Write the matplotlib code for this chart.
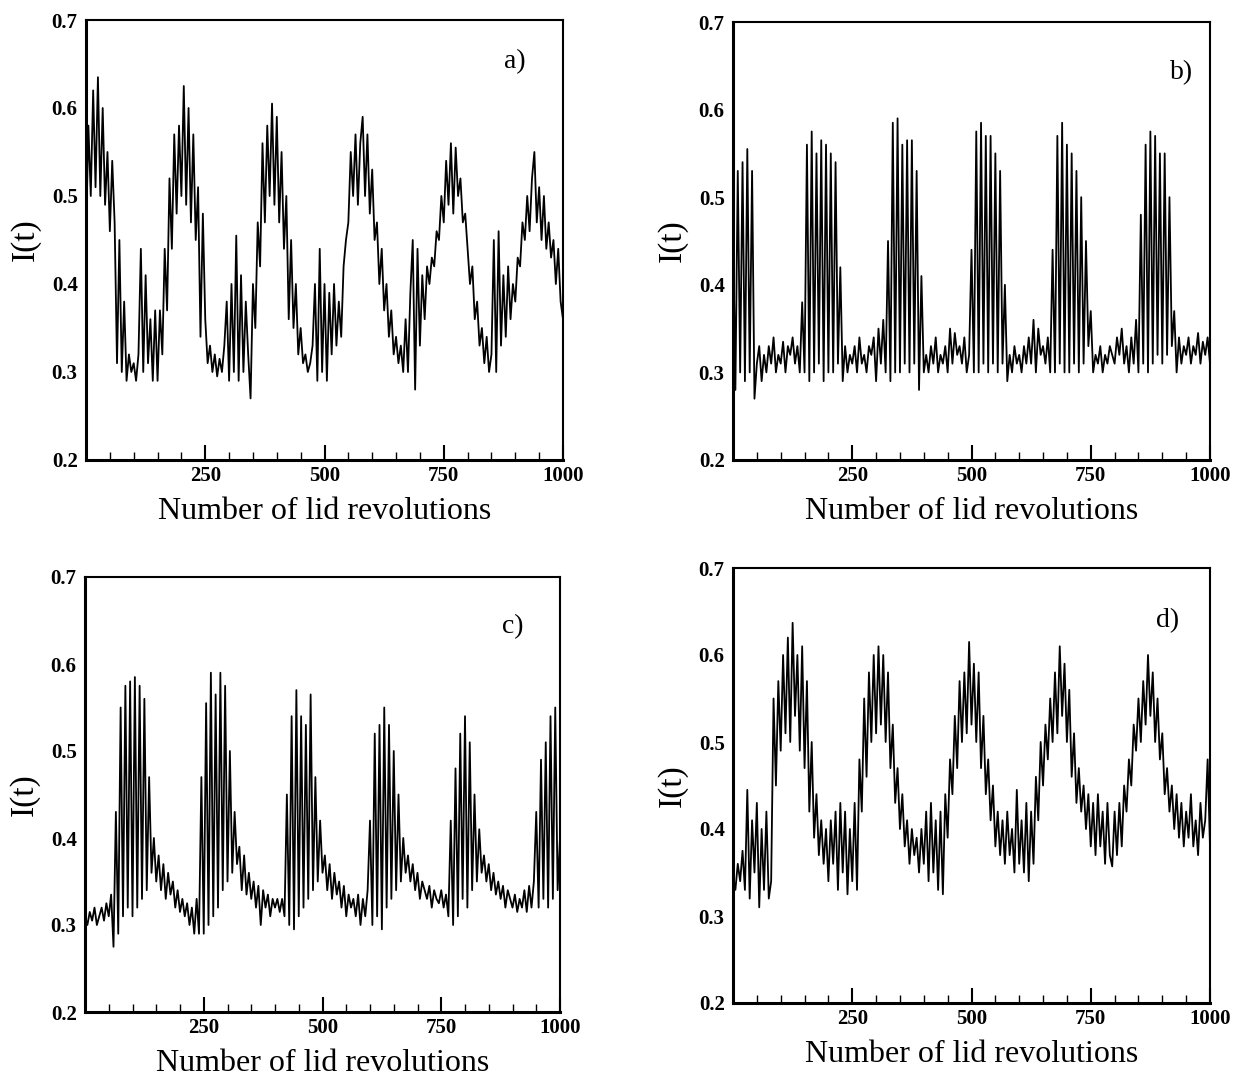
import matplotlib
matplotlib.use("Agg")
import matplotlib.pyplot as plt
from matplotlib.ticker import MultipleLocator, FixedLocator

plt.rcParams['font.family'] = ['Liberation Serif', 'DejaVu Serif']

revolutions = list(range(0, 1001, 5))

series_a = [
    0.45, 0.58, 0.50, 0.62, 0.51, 0.635, 0.50, 0.60, 0.49, 0.55,
    0.46, 0.54, 0.47, 0.31, 0.45, 0.30, 0.38, 0.29, 0.32, 0.30,
    0.31, 0.29, 0.32, 0.44, 0.30, 0.41, 0.31, 0.36, 0.29, 0.37,
    0.29, 0.37, 0.32, 0.44, 0.37, 0.52, 0.44, 0.57, 0.48, 0.58,
    0.50, 0.625, 0.49, 0.60, 0.47, 0.57, 0.45, 0.51, 0.34, 0.48,
    0.36, 0.31, 0.33, 0.30, 0.32, 0.295, 0.315, 0.30, 0.33, 0.38,
    0.29, 0.40, 0.30, 0.455, 0.29, 0.41, 0.30, 0.38, 0.32, 0.27,
    0.40, 0.35, 0.47, 0.42, 0.56, 0.47, 0.58, 0.50, 0.605, 0.49,
    0.59, 0.47, 0.55, 0.44, 0.50, 0.36, 0.45, 0.35, 0.40, 0.32,
    0.35, 0.31, 0.32, 0.30, 0.31, 0.33, 0.40, 0.29, 0.44, 0.30,
    0.40, 0.29, 0.39, 0.32, 0.40, 0.33, 0.38, 0.34, 0.42, 0.45,
    0.47, 0.55, 0.50, 0.57, 0.49, 0.56, 0.59, 0.50, 0.57, 0.48,
    0.53, 0.45, 0.47, 0.40, 0.44, 0.37, 0.40, 0.34, 0.37, 0.32,
    0.34, 0.31, 0.33, 0.30, 0.36, 0.30, 0.39, 0.45, 0.28, 0.44,
    0.33, 0.41, 0.36, 0.42, 0.40, 0.43, 0.42, 0.46, 0.45, 0.50,
    0.47, 0.54, 0.49, 0.56, 0.48, 0.555, 0.50, 0.52, 0.47, 0.48,
    0.44, 0.40, 0.42, 0.36, 0.38, 0.33, 0.35, 0.31, 0.34, 0.30,
    0.32, 0.45, 0.30, 0.46, 0.33, 0.41, 0.34, 0.42, 0.36, 0.40,
    0.38, 0.43, 0.42, 0.47, 0.45, 0.50, 0.46, 0.52, 0.55, 0.47,
    0.51, 0.45, 0.50, 0.44, 0.47, 0.43, 0.45, 0.40, 0.44, 0.38,
    0.36,
]

series_b = [
    0.47, 0.28, 0.53, 0.30, 0.54, 0.29, 0.555, 0.30, 0.53, 0.27,
    0.31, 0.33, 0.29, 0.32, 0.30, 0.33, 0.31, 0.34, 0.30, 0.32,
    0.31, 0.335, 0.30, 0.33, 0.32, 0.34, 0.31, 0.33, 0.30, 0.38,
    0.30, 0.56, 0.29, 0.575, 0.30, 0.55, 0.31, 0.565, 0.29, 0.56,
    0.30, 0.55, 0.30, 0.54, 0.31, 0.42, 0.29, 0.33, 0.30, 0.32,
    0.31, 0.33, 0.30, 0.34, 0.31, 0.32, 0.30, 0.33, 0.32, 0.34,
    0.29, 0.35, 0.31, 0.36, 0.30, 0.45, 0.29, 0.585, 0.30, 0.59,
    0.30, 0.56, 0.31, 0.565, 0.30, 0.565, 0.31, 0.53, 0.28, 0.41,
    0.30, 0.32, 0.30, 0.33, 0.31, 0.34, 0.30, 0.32, 0.31, 0.33,
    0.30, 0.35, 0.31, 0.345, 0.32, 0.33, 0.31, 0.34, 0.30, 0.32,
    0.44, 0.30, 0.575, 0.30, 0.585, 0.31, 0.57, 0.30, 0.57, 0.31,
    0.55, 0.30, 0.53, 0.31, 0.40, 0.29, 0.32, 0.30, 0.33, 0.31,
    0.32, 0.30, 0.33, 0.31, 0.34, 0.31, 0.36, 0.30, 0.35, 0.32,
    0.33, 0.31, 0.34, 0.30, 0.44, 0.30, 0.57, 0.31, 0.585, 0.30,
    0.56, 0.30, 0.55, 0.31, 0.53, 0.30, 0.50, 0.31, 0.45, 0.33,
    0.37, 0.30, 0.32, 0.31, 0.33, 0.30, 0.32, 0.31, 0.33, 0.32,
    0.31, 0.34, 0.32, 0.35, 0.31, 0.33, 0.30, 0.34, 0.31, 0.36,
    0.30, 0.48, 0.31, 0.56, 0.30, 0.575, 0.31, 0.57, 0.32, 0.55,
    0.31, 0.55, 0.32, 0.50, 0.33, 0.37, 0.30, 0.34, 0.31, 0.33,
    0.32, 0.34, 0.31, 0.33, 0.32, 0.345, 0.31, 0.335, 0.32, 0.34,
    0.31,
]

series_c = [
    0.31, 0.30, 0.315, 0.305, 0.32, 0.30, 0.31, 0.32, 0.305, 0.325,
    0.31, 0.335, 0.275, 0.43, 0.29, 0.55, 0.31, 0.575, 0.32, 0.58,
    0.31, 0.585, 0.32, 0.575, 0.33, 0.56, 0.34, 0.47, 0.36, 0.40,
    0.35, 0.38, 0.34, 0.37, 0.33, 0.36, 0.335, 0.35, 0.32, 0.34,
    0.315, 0.33, 0.31, 0.325, 0.30, 0.32, 0.29, 0.33, 0.29, 0.47,
    0.29, 0.555, 0.30, 0.59, 0.31, 0.565, 0.32, 0.59, 0.34, 0.575,
    0.35, 0.50, 0.36, 0.43, 0.37, 0.39, 0.34, 0.38, 0.335, 0.36,
    0.33, 0.35, 0.32, 0.345, 0.30, 0.34, 0.32, 0.335, 0.31, 0.33,
    0.32, 0.33, 0.315, 0.33, 0.31, 0.45, 0.30, 0.54, 0.295, 0.57,
    0.31, 0.54, 0.32, 0.53, 0.33, 0.565, 0.34, 0.47, 0.35, 0.42,
    0.36, 0.38, 0.34, 0.37, 0.33, 0.36, 0.335, 0.35, 0.32, 0.345,
    0.31, 0.335, 0.32, 0.33, 0.31, 0.335, 0.30, 0.33, 0.31, 0.34,
    0.42, 0.30, 0.52, 0.31, 0.53, 0.295, 0.55, 0.32, 0.53, 0.33,
    0.50, 0.34, 0.45, 0.35, 0.40, 0.36, 0.38, 0.35, 0.37, 0.34,
    0.36, 0.33, 0.35, 0.34, 0.33, 0.345, 0.32, 0.34, 0.33, 0.325,
    0.34, 0.32, 0.335, 0.31, 0.42, 0.30, 0.48, 0.31, 0.52, 0.33,
    0.54, 0.32, 0.51, 0.34, 0.45, 0.35, 0.41, 0.36, 0.38, 0.35,
    0.37, 0.34, 0.36, 0.335, 0.35, 0.33, 0.345, 0.32, 0.34, 0.33,
    0.32, 0.335, 0.315, 0.33, 0.32, 0.34, 0.315, 0.345, 0.32, 0.35,
    0.43, 0.32, 0.49, 0.33, 0.51, 0.32, 0.54, 0.33, 0.55, 0.34,
    0.40,
]

series_d = [
    0.345, 0.33, 0.36, 0.34, 0.375, 0.33, 0.445, 0.32, 0.41, 0.35,
    0.43, 0.31, 0.40, 0.33, 0.42, 0.32, 0.34, 0.55, 0.45, 0.57,
    0.49, 0.60, 0.51, 0.62, 0.50, 0.637, 0.53, 0.60, 0.49, 0.61,
    0.47, 0.57, 0.42, 0.50, 0.39, 0.44, 0.37, 0.41, 0.36, 0.40,
    0.34, 0.41, 0.36, 0.42, 0.33, 0.43, 0.35, 0.42, 0.325, 0.40,
    0.34, 0.43, 0.33, 0.48, 0.42, 0.55, 0.46, 0.58, 0.50, 0.60,
    0.51, 0.61, 0.52, 0.60, 0.50, 0.58, 0.47, 0.52, 0.43, 0.47,
    0.40, 0.44, 0.38, 0.41, 0.36, 0.40, 0.37, 0.39, 0.35, 0.40,
    0.36, 0.42, 0.34, 0.43, 0.35, 0.41, 0.33, 0.42, 0.325, 0.44,
    0.39, 0.48, 0.44, 0.53, 0.47, 0.57, 0.50, 0.58, 0.51, 0.615,
    0.52, 0.59, 0.50, 0.58, 0.47, 0.53, 0.44, 0.48, 0.41, 0.45,
    0.38, 0.42, 0.37, 0.41, 0.36, 0.42, 0.37, 0.40, 0.35, 0.445,
    0.36, 0.41, 0.35, 0.43, 0.34, 0.42, 0.36, 0.46, 0.41, 0.50,
    0.45, 0.52, 0.48, 0.55, 0.50, 0.58, 0.51, 0.61, 0.53, 0.59,
    0.50, 0.56, 0.46, 0.51, 0.43, 0.47, 0.42, 0.45, 0.40, 0.44,
    0.38, 0.43, 0.37, 0.44, 0.38, 0.42, 0.36, 0.43, 0.37, 0.357,
    0.42, 0.37, 0.43, 0.38, 0.45, 0.42, 0.48, 0.45, 0.52, 0.49,
    0.55, 0.50, 0.57, 0.52, 0.60, 0.53, 0.58, 0.50, 0.55, 0.48,
    0.51, 0.44, 0.47, 0.42, 0.45, 0.40, 0.44, 0.39, 0.43, 0.38,
    0.42, 0.39, 0.44, 0.38, 0.41, 0.37, 0.43, 0.39, 0.41, 0.48,
    0.38,
]

panel_labels = ["a)", "b)", "c)", "d)"]
x_tick_values = [250, 500, 750, 1000]
x_tick_labels = ["250", "500", "750", "1000"]
y_tick_values = [0.2, 0.3, 0.4, 0.5, 0.6, 0.7]
y_tick_labels = ["0.2", "0.3", "0.4", "0.5", "0.6", "0.7"]
x_title = "Number of lid revolutions"
y_title = "I(t)"

W, H = 1240, 1076
fig = plt.figure(figsize=(W / 100, H / 100), dpi=100)

# (left, top, right, bottom) in pixels
boxes = [
    (86, 20, 563, 460),
    (733, 22, 1210, 460),
    (85, 577, 560, 1012),
    (733, 568, 1210, 1003),
]
label_pos = [(0.90, 0.905), (0.94, 0.885), (0.90, 0.885), (0.91, 0.88)]
all_series = [series_a, series_b, series_c, series_d]

for i, (box, ys, lab) in enumerate(zip(boxes, all_series, panel_labels)):
    l, t, r, b = box
    ax = fig.add_axes([l / W, 1 - b / H, (r - l) / W, (b - t) / H])
    ax.plot(revolutions, ys, color='black', linewidth=1.3)
    ax.set_xlim(0, 1000)
    ax.set_ylim(0.2, 0.7)
    ax.xaxis.set_major_locator(FixedLocator(x_tick_values))
    ax.set_xticklabels(x_tick_labels)
    ax.xaxis.set_minor_locator(MultipleLocator(50))
    ax.set_yticks(y_tick_values)
    ax.set_yticklabels(y_tick_labels)
    ax.tick_params(axis='x', which='major', direction='in', length=11, width=1.5,
                   labelsize=15, pad=4, top=False)
    ax.tick_params(axis='x', which='minor', direction='in', length=6, width=1.0, top=False)
    ax.tick_params(axis='y', which='both', length=0, labelsize=15, pad=6)
    for lbl in ax.get_xticklabels() + ax.get_yticklabels():
        lbl.set_fontweight('bold')
    for sp in ax.spines.values():
        sp.set_linewidth(1.5)
    ax.spines['left'].set_linewidth(2.2)
    ax.spines['bottom'].set_linewidth(2.2)
    ax.set_xlabel(x_title, fontsize=23, labelpad=8)
    ax.set_ylabel(y_title, fontsize=24, labelpad=8)
    ax.text(label_pos[i][0], label_pos[i][1], lab, transform=ax.transAxes,
            fontsize=20, ha='center', va='center')

fig.savefig("out.png", dpi=100)
